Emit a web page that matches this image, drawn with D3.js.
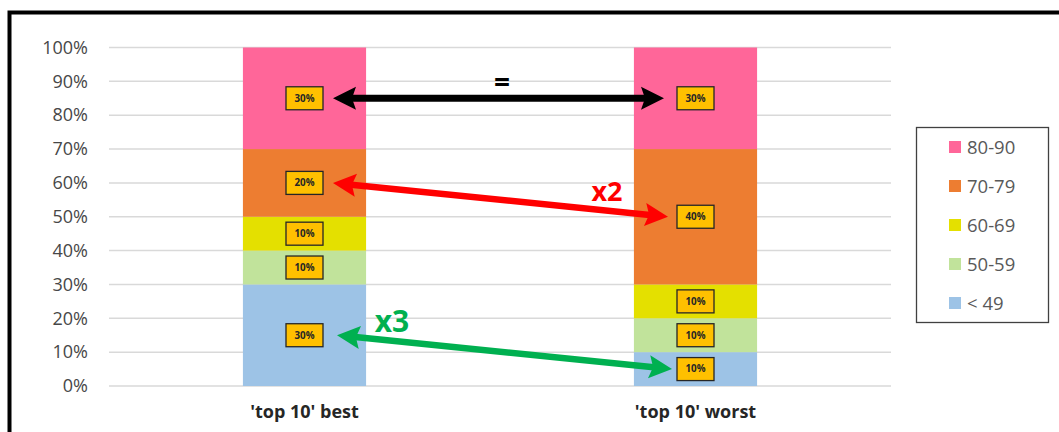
<!DOCTYPE html>
<html>
<head>
<meta charset="utf-8">
<script src="https://cdn.jsdelivr.net/npm/d3@7"></script>
<style>
  html, body { margin: 0; padding: 0; background: #fff; }
  svg { display: block; }
</style>
</head>
<body>
<svg id="chart" width="1059" height="432"></svg>
<script>
// Stacked shares per group, bottom band first
const categories = ["'top 10' best", "'top 10' worst"];
const bands = ["< 49", "50-59", "60-69", "70-79", "80-90"];
const bestValues = [0.30, 0.10, 0.10, 0.20, 0.30];
const worstValues = [0.10, 0.10, 0.10, 0.40, 0.30];
const yTicks = [0, 0.1, 0.2, 0.3, 0.4, 0.5, 0.6, 0.7, 0.8, 0.9, 1.0];
const bandColors = ["#9DC3E6", "#C1E39B", "#E4E000", "#ED7D31", "#FF6699"];

// Comparison arrows between the two groups for one band
const comparisons = [
  { band: 4, label: "=", color: "#000000" },
  { band: 3, label: "x2", color: "#FF0000" },
  { band: 0, label: "x3", color: "#00B050" }
];

const svg = d3.select("#chart");
const width = 1059, height = 432;
const margin = { left: 109, right: 169, top: 47.5, bottom: 46 };
const plotRight = width - margin.right + 1;
const font = "'Open Sans', sans-serif";

// outer frame (top and left edges visible)
svg.append("path")
  .attr("d", `M9.5,${height} L9.5,12.5 L${width},12.5`)
  .attr("fill", "none").attr("stroke", "#000").attr("stroke-width", 4);

const x = d3.scaleBand().domain(categories)
  .range([margin.left, plotRight])
  .paddingInner(0.685).paddingOuter(0.3425);
const y = d3.scaleLinear().domain([0, 1]).range([386, margin.top]);

// gridlines
svg.append("g").selectAll("line").data(yTicks).join("line")
  .attr("x1", margin.left).attr("x2", plotRight)
  .attr("y1", d => y(d)).attr("y2", d => y(d))
  .attr("stroke", "#D9D9D9").attr("stroke-width", 1.5);

// y axis labels
const yAxis = d3.axisLeft(y).tickValues(yTicks).tickFormat(d3.format(".0%")).tickSize(0).tickPadding(21);
svg.append("g").attr("transform", `translate(${margin.left},0)`).call(yAxis)
  .call(g => g.select(".domain").remove())
  .selectAll("text")
  .attr("font-family", font)
  .attr("font-size", 18)
  .attr("fill", "#474747");

// stack data
const rows = categories.map((c, i) => {
  const vals = i === 0 ? bestValues : worstValues;
  const r = { cat: c };
  bands.forEach((b, j) => r[b] = vals[j]);
  return r;
});
const stacked = d3.stack().keys(bands)(rows);

const segs = svg.append("g");
stacked.forEach((layer, j) => {
  segs.selectAll(null).data(layer).join("rect")
    .attr("x", d => x(d.data.cat))
    .attr("width", x.bandwidth())
    .attr("y", d => y(d[1]))
    .attr("height", d => y(d[0]) - y(d[1]))
    .attr("fill", bandColors[j]);
});

// value labels in boxes
const boxW = 37, boxH = 23;
const labels = svg.append("g");
stacked.forEach((layer) => {
  layer.forEach(d => {
    const cx = x(d.data.cat) + x.bandwidth() / 2;
    const cy = y((d[0] + d[1]) / 2);
    labels.append("rect")
      .attr("x", cx - boxW / 2).attr("y", cy - boxH / 2)
      .attr("width", boxW).attr("height", boxH)
      .attr("fill", "#FFC000").attr("stroke", "#262626").attr("stroke-width", 1.3);
    labels.append("text")
      .attr("x", cx).attr("y", cy + 3.4)
      .attr("text-anchor", "middle")
      .attr("font-family", font)
      .attr("font-weight", "bold")
      .attr("font-size", 9.8)
      .attr("fill", "#262626")
      .text(d3.format(".0%")(d[1] - d[0]));
  });
});

// x axis labels
svg.append("g").selectAll("text").data(categories).join("text")
  .attr("x", d => x(d) + x.bandwidth() / 2)
  .attr("y", 418)
  .attr("text-anchor", "middle")
  .attr("font-family", font)
  .attr("font-weight", "bold")
  .attr("font-size", 18)
  .attr("fill", "#262626")
  .text(d => d);

// comparison arrows between the two bars
const mid = (vals, j) => d3.sum(vals.slice(0, j)) + vals[j] / 2;
const headLen = 23, headW = 23;
function arrow(g, x1, y1, x2, y2, color, sw) {
  const ang = Math.atan2(y2 - y1, x2 - x1);
  const ux = Math.cos(ang), uy = Math.sin(ang);
  const px = -uy, py = ux;
  g.append("line")
    .attr("x1", x1 + ux * headLen * 0.8).attr("y1", y1 + uy * headLen * 0.8)
    .attr("x2", x2 - ux * headLen * 0.8).attr("y2", y2 - uy * headLen * 0.8)
    .attr("stroke", color).attr("stroke-width", sw);
  const head = (tx, ty, dir) => {
    const bx = tx - dir * ux * headLen, by = ty - dir * uy * headLen;
    g.append("path")
      .attr("d", `M${tx},${ty} L${bx + px * headW / 2},${by + py * headW / 2} L${bx + dir * ux * 4},${by + dir * uy * 4} L${bx - px * headW / 2},${by - py * headW / 2} Z`)
      .attr("fill", color);
  };
  head(x1, y1, -1);
  head(x2, y2, 1);
}
const arrowsG = svg.append("g");
const cxBest = x(categories[0]) + x.bandwidth() / 2;
const cxWorst = x(categories[1]) + x.bandwidth() / 2;
const gaps = [[10, 13], [10, 9], [14, 5]];
const widths = [7, 6.5, 6.5];
comparisons.forEach((c, i) => {
  const x1 = cxBest + boxW / 2 + gaps[i][0];
  const x2 = cxWorst - boxW / 2 - gaps[i][1];
  const y1 = y(mid(bestValues, c.band));
  const y2 = y(mid(worstValues, c.band));
  arrow(arrowsG, x1, y1, x2, y2, c.color, widths[i]);
});

// comparison labels
const labelPos = [
  { lx: 502, ly: 92, size: 28 },
  { lx: 607, ly: 201, size: 27 },
  { lx: 392, ly: 332, size: 30 }
];
comparisons.forEach((c, i) => {
  svg.append("text")
    .attr("x", labelPos[i].lx).attr("y", labelPos[i].ly)
    .attr("text-anchor", "middle")
    .attr("font-family", font)
    .attr("font-weight", "bold")
    .attr("font-size", labelPos[i].size)
    .attr("fill", c.color)
    .text(c.label);
});

// legend, top band first
const lg = svg.append("g");
lg.append("rect").attr("x", 916.5).attr("y", 127.5).attr("width", 132).attr("height", 195)
  .attr("fill", "#fff").attr("stroke", "#404040").attr("stroke-width", 1.3);
const legendItems = bands.map((b, j) => ({ b, c: bandColors[j] })).reverse();
legendItems.forEach((d, i) => {
  const cy = 147 + i * 39;
  lg.append("rect").attr("x", 949).attr("y", cy - 6).attr("width", 12).attr("height", 12).attr("fill", d.c);
  lg.append("text").attr("x", 967).attr("y", cy + 6.5)
    .attr("font-family", font)
    .attr("font-size", 18.5)
    .attr("fill", "#595959")
    .text(d.b);
});
</script>
</body>
</html>
